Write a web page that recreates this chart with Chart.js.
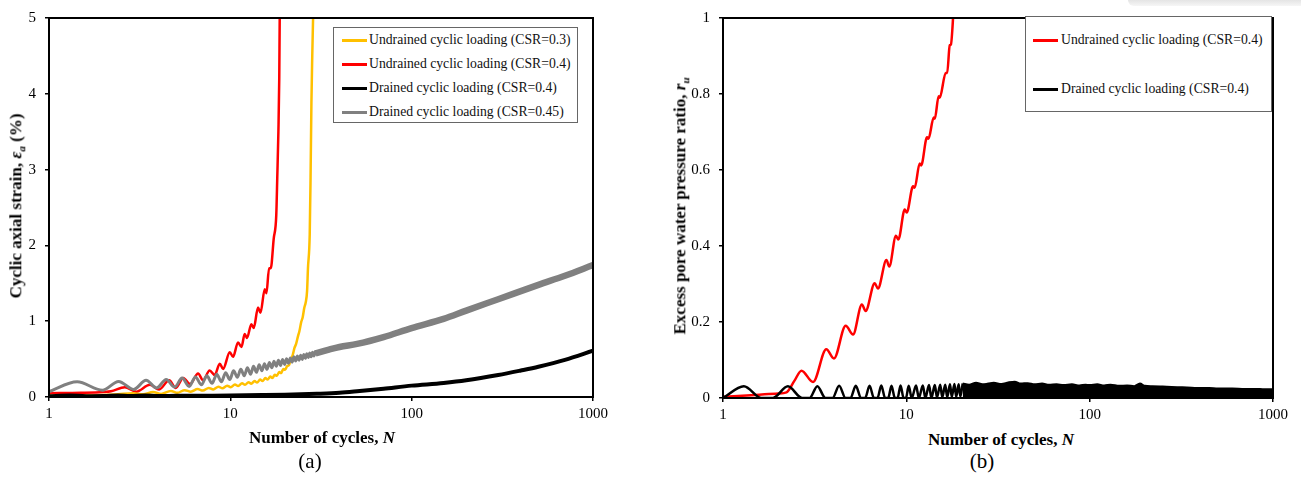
<!DOCTYPE html>
<html>
<head>
<meta charset="utf-8">
<script src="https://cdn.jsdelivr.net/npm/chart.js@4.4.1/dist/chart.umd.min.js"></script>
<style>
  body { margin: 0; width: 1301px; height: 484px; background: #fff; position: relative; overflow: hidden; font-family: "Liberation Serif", "Times New Roman", serif; color: #000; }
  canvas { position: absolute; top: 0; }
  .t { position: absolute; white-space: nowrap; transform: translate(-50%, -50%); }
  .bold { font-weight: bold; font-size: 17px; }
  .rot { transform: translate(-50%, -50%) rotate(-90deg); }
  .lab { font-size: 21px; }
  .legend { position: absolute; border: 1.5px solid #666; background: #fff; box-sizing: border-box; }
  .row { position: absolute; left: 0; height: 20px; margin-top: -10px; font-size: 13.7px; line-height: 20px; white-space: nowrap; color: #111; }
  .row .l { position: absolute; top: 9px; height: 3px; width: 25px; }
  .row .tx { position: absolute; }
  .shade { position: absolute; top: 0; left: 1128px; width: 173px; height: 6px; border-bottom-left-radius: 6px; background: linear-gradient(#e4e4e4, #f6f6f6); }
</style>
</head>
<body>
<div class="shade"></div>
<canvas id="chartA" width="650" height="430" style="left:0"></canvas>
<canvas id="chartB" width="651" height="430" style="left:650px"></canvas>

<div class="t bold rot" style="left:17px;top:206px">Cyclic axial strain, <i>ε<sub style="font-size:11px">a</sub></i> (%)</div>
<div class="t bold" style="left:322px;top:438px">Number of cycles, <i>N</i></div>
<div class="t lab" style="left:310px;top:461px">(a)</div>

<div class="t bold rot" style="left:681px;top:206px">Excess pore water pressure ratio, <i>r<sub style="font-size:11px">u</sub></i></div>
<div class="t bold" style="left:1001px;top:440px">Number of cycles, <i>N</i></div>
<div class="t lab" style="left:982px;top:461px">(b)</div>

<div class="legend" style="left:333px;top:27px;width:245px;height:96px">
  <div class="row" style="top:12px"><span class="l" style="left:8px;background:#FFC000"></span><span class="tx" style="left:35px">Undrained cyclic loading (CSR=0.3)</span></div>
  <div class="row" style="top:36px"><span class="l" style="left:8px;background:#FF0000"></span><span class="tx" style="left:35px">Undrained cyclic loading (CSR=0.4)</span></div>
  <div class="row" style="top:60px"><span class="l" style="left:8px;background:#000"></span><span class="tx" style="left:35px">Drained cyclic loading (CSR=0.4)</span></div>
  <div class="row" style="top:84px"><span class="l" style="left:8px;background:#808080"></span><span class="tx" style="left:35px">Drained cyclic loading (CSR=0.45)</span></div>
</div>

<div class="legend" style="left:1025px;top:16px;width:247px;height:96px">
  <div class="row" style="top:23px"><span class="l" style="left:7px;background:#FF0000"></span><span class="tx" style="left:35px">Undrained cyclic loading (CSR=0.4)</span></div>
  <div class="row" style="top:72px"><span class="l" style="left:7px;background:#000"></span><span class="tx" style="left:35px">Drained cyclic loading (CSR=0.4)</span></div>
</div>

<script>
// ticks
const xTicks = [1, 10, 100, 1000];
const yTicksA = [0, 1, 2, 3, 4, 5];
const yTicksB = [0, 0.2, 0.4, 0.6, 0.8, 1];

// (a) cyclic axial strain (%) vs N, [N, value]
const undrained03A = [
  [1, 0.015], [1.5, 0.02], [2.0, 0.025], [2.4, 0.035], [2.9, 0.05], [3.3, 0.035], [3.75, 0.065], [4.15, 0.04],
  [4.7, 0.08], [5.1, 0.055], [5.6, 0.09], [6.05, 0.07], [6.6, 0.105], [7.05, 0.085], [7.6, 0.12], [8.05, 0.1],
  [8.6, 0.135], [9.05, 0.115], [9.6, 0.15], [10.05, 0.13], [10.6, 0.165], [11.05, 0.145], [11.6, 0.18], [12.05, 0.16],
  [12.6, 0.195], [13.05, 0.175], [13.6, 0.21], [14.05, 0.19], [14.6, 0.23], [15.05, 0.21], [15.6, 0.25], [16.05, 0.23],
  [16.6, 0.27], [17.05, 0.25], [17.6, 0.295], [18.05, 0.28], [18.6, 0.33], [19.05, 0.315], [19.6, 0.37], [20.05, 0.36],
  [20.6, 0.41], [21.05, 0.42], [21.6, 0.5], [22.05, 0.55], [22.6, 0.65], [23.05, 0.7], [23.6, 0.8], [24.05, 0.87],
  [24.6, 0.99], [25.05, 1.05], [25.6, 1.18], [26.05, 1.25], [26.5, 1.4], [26.8, 1.7], [27.4, 2.14], [27.7, 2.9],
  [28.0, 3.88], [28.3, 4.5], [28.6, 5.0], [28.8, 5.3]
];
const undrained04A = [
  [1, 0.05], [1.5, 0.055], [2.0, 0.065], [2.2, 0.075], [2.62, 0.13], [3.03, 0.07], [3.6, 0.16], [4.05, 0.1],
  [4.6, 0.22], [5.0, 0.12], [5.5, 0.25], [6.0, 0.17], [6.64, 0.31], [7.07, 0.22], [7.69, 0.35], [8.2, 0.29],
  [8.74, 0.44], [9.12, 0.37], [9.93, 0.59], [10.35, 0.53], [11.03, 0.72], [11.52, 0.66], [12.0, 0.83], [12.36, 0.78],
  [13.06, 0.96], [13.46, 0.91], [14.22, 1.18], [14.66, 1.11], [15.48, 1.42], [15.82, 1.37], [16.35, 1.7], [16.71, 1.7],
  [17.35, 2.09], [17.92, 2.4], [18.15, 2.9], [18.41, 3.5], [18.61, 4.2], [18.72, 5.0], [18.8, 5.3]
];
const drained04A = [
  [1, 0.01], [1.3, 0.02], [1.6, 0.01], [2.0, 0.012], [2.4, 0.02], [2.8, 0.012], [3.4, 0.02], [4, 0.013],
  [5, 0.015], [6, 0.016], [8, 0.018], [10, 0.02], [15, 0.025], [20, 0.03], [30, 0.042], [40, 0.055],
  [50, 0.075], [70, 0.11], [100, 0.15], [150, 0.185], [200, 0.22], [300, 0.29], [400, 0.35], [500, 0.4],
  [700, 0.49], [1000, 0.61]
];
const drained045A = [
  [1, 0.07], [1.43, 0.2], [1.97, 0.09], [2.42, 0.205], [2.93, 0.1], [3.43, 0.22], [3.92, 0.12], [4.43, 0.23],
  [4.93, 0.13], [5.42, 0.25], [5.93, 0.14], [6.42, 0.265], [6.93, 0.16], [7.42, 0.28], [7.93, 0.18], [8.42, 0.3],
  [8.93, 0.2], [9.42, 0.32], [9.93, 0.23], [10.42, 0.345], [10.93, 0.26], [11.42, 0.365], [11.93, 0.28], [12.42, 0.385],
  [12.93, 0.3], [13.42, 0.405], [13.93, 0.325], [14.42, 0.425], [14.93, 0.345], [15.42, 0.44], [15.93, 0.365], [16.42, 0.455],
  [16.93, 0.385], [17.42, 0.47], [17.93, 0.405], [18.42, 0.485], [18.93, 0.415], [19.42, 0.495], [19.93, 0.43], [20.42, 0.505],
  [20.93, 0.445], [21.42, 0.515], [21.93, 0.46], [22.42, 0.53], [22.93, 0.475], [23.42, 0.54], [23.93, 0.485], [24.42, 0.55],
  [24.93, 0.495], [25.42, 0.56], [25.93, 0.51], [26.42, 0.57], [26.93, 0.52], [27.42, 0.58], [27.93, 0.53], [28.42, 0.59],
  [28.93, 0.54], [29.42, 0.6], [29.93, 0.55]
];
const drained045Aband = [
  [29.5, 0.575], [35, 0.625], [40, 0.66], [50, 0.7], [70, 0.79], [100, 0.91], [150, 1.03], [200, 1.14],
  [300, 1.29], [500, 1.48], [700, 1.6], [1000, 1.74]
];

// (b) excess pore water pressure ratio vs N
const undrained04B = [
  [1, 0.003], [1.5, 0.008], [2.0, 0.012], [2.22, 0.015], [2.45, 0.045], [2.68, 0.072], [3.1, 0.042], [3.66, 0.128],
  [4.03, 0.104], [4.67, 0.19], [5.12, 0.167], [5.72, 0.246], [6.0, 0.229], [6.72, 0.302], [7.0, 0.288], [7.79, 0.363],
  [8.07, 0.346], [8.78, 0.427], [9.05, 0.417], [9.8, 0.496], [10.05, 0.488], [10.88, 0.557], [11.1, 0.553], [11.83, 0.617],
  [12.05, 0.612], [12.97, 0.686], [13.2, 0.682], [14.1, 0.738], [14.3, 0.735], [15.0, 0.794], [15.2, 0.79], [16.4, 0.855],
  [16.7, 0.855], [17.25, 0.928], [17.5, 0.93], [17.98, 1.0], [18.3, 1.08]
];
const drained04B = [
  [1, 0], [1.3, 0.031], [1.62, 0], [1.87, 0], [2.26, 0.031], [2.7, 0], [2.97, 0], [3.27, 0.031], [3.62, 0], [3.96, 0],
  [4.3, 0.032], [4.66, 0], [4.96, 0], [5.3, 0.032], [5.66, 0], [5.96, 0], [6.3, 0.032], [6.66, 0], [6.96, 0],
  [7.3, 0.033], [7.66, 0], [7.96, 0], [8.3, 0.032], [8.66, 0], [8.96, 0], [9.3, 0.033], [9.66, 0], [9.96, 0],
  [10.3, 0.032], [10.7, 0], [11.3, 0.033], [11.7, 0], [12.3, 0.033], [12.7, 0], [13.3, 0.034], [13.7, 0],
  [14.3, 0.034], [14.7, 0.001], [15.3, 0.035], [15.7, 0.002], [16.3, 0.035], [16.7, 0.002], [17.3, 0.036], [17.7, 0.003],
  [18.3, 0.037], [18.7, 0.003], [19.3, 0.036], [19.7, 0.004], [20.3, 0.038]
];
const drained04Bband = [
  [20.3, 0.038], [22, 0.035], [24, 0.04], [26, 0.036], [28, 0.038], [30, 0.04], [33, 0.037], [36, 0.041],
  [39, 0.043], [42, 0.038], [46, 0.039], [50, 0.036], [55, 0.038], [60, 0.035], [66, 0.036], [72, 0.034],
  [80, 0.036], [88, 0.033], [95, 0.035], [100, 0.034], [110, 0.036], [120, 0.033], [130, 0.035], [145, 0.032],
  [160, 0.033], [175, 0.031], [188, 0.038], [200, 0.032], [220, 0.031], [250, 0.03], [280, 0.029], [320, 0.028],
  [360, 0.027], [400, 0.026], [450, 0.026], [500, 0.025], [600, 0.025], [700, 0.024], [800, 0.024], [900, 0.023],
  [1000, 0.023]
];

const toXY = arr => arr.map(p => ({ x: p[0], y: p[1] }));

function line(data, color, width, extra) {
  return Object.assign({
    data: toXY(data), showLine: true, borderColor: color, backgroundColor: color,
    borderWidth: width, pointRadius: 0, fill: false, cubicInterpolationMode: 'monotone'
  }, extra || {});
}

// caixa completa em volta da área do gráfico
const frame = {
  id: 'frame',
  afterDatasetsDraw(chart) {
    const a = chart.chartArea, ctx = chart.ctx;
    ctx.save();
    ctx.strokeStyle = '#000';
    ctx.lineWidth = 2;
    ctx.strokeRect(a.left, a.top, a.right - a.left, a.bottom - a.top);
    ctx.restore();
  }
};

const tickFont = { family: '"Liberation Serif", "Times New Roman", serif', size: 15 };

function makeChart(id, datasets, yTicks, yMax, yWidth, xHeight, pad) {
  return new Chart(document.getElementById(id), {
    type: 'scatter',
    data: { datasets: datasets },
    options: {
      responsive: false,
      animation: false,
      devicePixelRatio: 1,
      layout: { padding: pad },
      plugins: { legend: { display: false }, tooltip: { enabled: false } },
      scales: {
        x: {
          type: 'logarithmic', min: 1, max: 1000,
          afterBuildTicks: s => { s.ticks = xTicks.map(v => ({ value: v })); },
          afterFit: s => { s.height = xHeight; },
          ticks: { callback: v => String(v), color: '#000', font: tickFont, padding: 4, maxRotation: 0, autoSkip: false },
          grid: { drawOnChartArea: false, tickLength: 4, color: '#000', lineWidth: 1.5 },
          border: { display: false }
        },
        y: {
          min: 0, max: yMax,
          afterBuildTicks: s => { s.ticks = yTicks.map(v => ({ value: v })); },
          afterFit: s => { s.width = yWidth; },
          ticks: { callback: v => String(v), color: '#000', font: tickFont, padding: 9, autoSkip: false },
          grid: { drawOnChartArea: false, tickLength: 4, color: '#000', lineWidth: 1.5 },
          border: { display: false }
        }
      }
    },
    plugins: [frame]
  });
}

makeChart('chartA', [
  line(drained04A, '#000000', 4),
  line(drained045A, '#808080', 3),
  line(drained045Aband, '#808080', 6.5),
  line(undrained03A, '#FFC000', 2.5),
  line(undrained04A, '#FF0000', 2.5)
], yTicksA, 5, 49, 33, { top: 14, right: 57, left: 0, bottom: 0 });

makeChart('chartB', [
  line(drained04Bband, '#000000', 2, { fill: 'origin' }),
  line(drained04B, '#000000', 2.5),
  line(undrained04B, '#FF0000', 2.5)
], yTicksB, 1, 73, 32, { top: 12, right: 28, left: 0, bottom: 0 });
</script>
</body>
</html>
